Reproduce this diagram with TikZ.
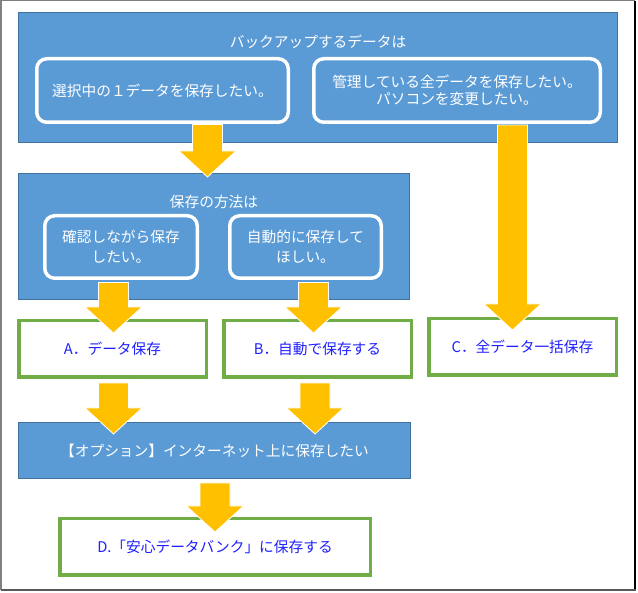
\documentclass[tikz,border=0pt]{standalone}
\usepackage{fontspec}
\setmainfont{Noto Sans CJK JP}
\usetikzlibrary{calc}
\definecolor{bfill}{HTML}{5B9BD5}
\definecolor{bline}{HTML}{41719C}
\definecolor{org}{HTML}{FFC000}
\definecolor{grn}{HTML}{70AD47}
\definecolor{btxt}{HTML}{1F1FFF}
\tikzset{
  jp/.style={font=\fontsize{14.7}{17}\selectfont},
  bluebox/.style={draw=bline, fill=bfill, line width=1pt, inner sep=0pt, jp, text=white},
  roundbox/.style={draw=white, line width=3.5pt, rounded corners=10pt, inner sep=0pt, jp, text=white, align=center},
  greenbox/.style={draw=grn, fill=white, line width=3.5pt, inner sep=0pt, jp, text=btxt,
     minimum width=187.5pt, minimum height=56.5pt},
  titletext/.style={jp, text=white, inner sep=0pt},
  blockarr/.style={fill=org, draw=white, line width=0.8pt, line join=miter},
}
\newcommand\blockarrow[2]{%
  \path[blockarr] let \p1=(#1), \p2=(#2) in
   (\x1-15pt,\y1) -- (\x1+15pt,\y1) -- (\x1+15pt,\y2+26pt) -- (\x1+28.5pt,\y2+26pt)
   -- (\x1,\y2) -- (\x1-28.5pt,\y2+26pt) -- (\x1-15pt,\y2+26pt) -- cycle;}
\begin{document}
\begin{tikzpicture}[x=1pt,y=-1pt]
\useasboundingbox (0,0) rectangle (638,593);
% outer frame
\draw[draw=black!50, line width=1.5pt] (0.75,590) -- (0.75,0.75) -- (635,0.75);
\draw[draw=black, line width=2pt] (635,0.75) -- (635,590);
\draw[draw=black!65, line width=2pt] (0.75,590) -- (636,590);

% top blue panel
\node[bluebox, minimum width=599pt, minimum height=130pt] (panel1) at (318,77.5) {};
\node[titletext] (title1) at (318,42) {バックアップするデータは};
\node[roundbox, minimum width=251.5pt, minimum height=63.5pt] (rb1) at (162.5,90.5) {選択中の１データを保存したい。};
\node[roundbox, minimum width=286.5pt, minimum height=63.5pt] (rb2) at (457,90.5) {管理している全データを保存したい。\\パソコンを変更したい。};

% second blue panel
\node[bluebox, minimum width=391pt, minimum height=126pt] (panel2) at (214,236.5) {};
\node[titletext] (title2) at (214,202) {保存の方法は};
\node[roundbox, font=\fontsize{14.7}{20}\selectfont, minimum width=152.5pt, minimum height=62.5pt] (rb3) at (121,247) {確認しながら保存\\したい。};
\node[roundbox, font=\fontsize{14.7}{20}\selectfont, minimum width=151.5pt, minimum height=62.5pt] (rb4) at (305.5,247) {自動的に保存して\\ほしい。};

% result boxes
\node[greenbox] (A) at (112.5,349) {A．データ保存};
\node[greenbox] (B) at (317.5,349) {B．自動で保存する};
\node[greenbox] (C) at (522.5,347) {C．全データ一括保存};

% option bar
\node[bluebox, minimum width=392pt, minimum height=56pt] (opt) at (214.5,450.5) {【オプション】インターネット上に保存したい};

% D box
\node[greenbox, minimum width=310.5pt] (D) at (215,547) {D.「安心データバンク」に保存する};

% arrow end points
\coordinate (s1) at (207.5,124.5); \coordinate (t1) at (207.5,177);
\coordinate (sC) at (512.5,125);   \coordinate (tC) at (512.5,330);
\coordinate (sA) at (113.5,282.5); \coordinate (tA) at (113.5,333);
\coordinate (sB) at (313.5,282.5); \coordinate (tB) at (313.5,333);
\coordinate (sA2) at (113.5,383);  \coordinate (tA2) at (113.5,434);
\coordinate (sB2) at (315,383);    \coordinate (tB2) at (315,434);
\coordinate (sD) at (215,483);     \coordinate (tD) at (215,532);

\blockarrow{s1}{t1}
\blockarrow{sC}{tC}
\blockarrow{sA}{tA}
\blockarrow{sB}{tB}
\blockarrow{sA2}{tA2}
\blockarrow{sB2}{tB2}
\blockarrow{sD}{tD}
\end{tikzpicture}
\end{document}
